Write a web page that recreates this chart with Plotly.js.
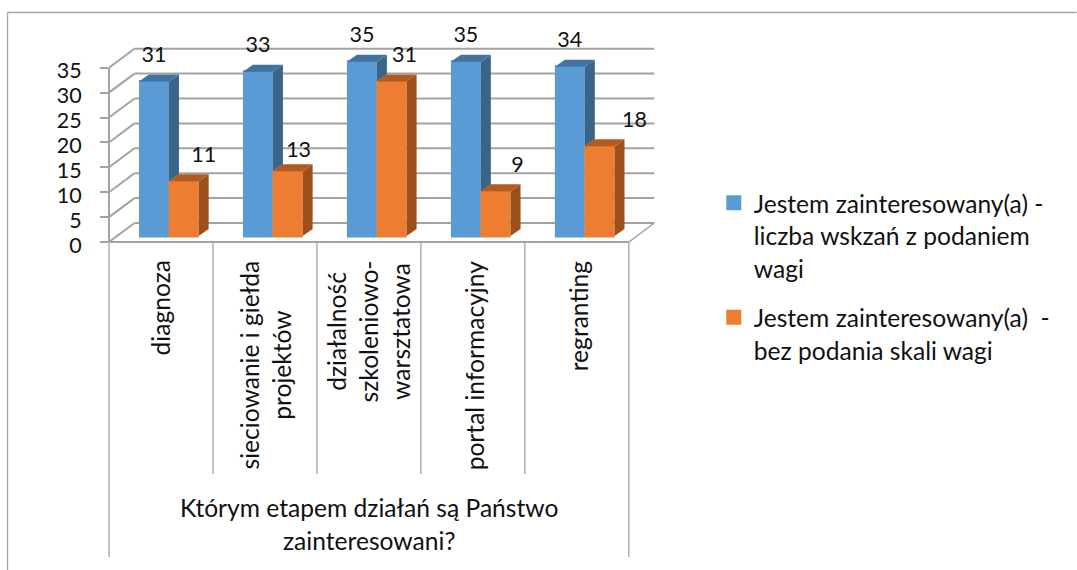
<!DOCTYPE html>
<html>
<head>
<meta charset="utf-8">
<script src="https://cdn.plot.ly/plotly-3.0.1.min.js"></script>
<style>html,body{margin:0;padding:0;background:#fff}#chart{width:1077px;height:570px}</style>
</head>
<body>
<div id="chart"></div>
<script>
// ---- data ----
const categoryLines = [
  ["diagnoza"],
  ["sieciowanie i giełda", "projektów"],
  ["działalność", "szkoleniowo-", "warsztatowa"],
  ["portal informacyjny"],
  ["regranting"]
];
const seriesBlueNameLines = ["Jestem zainteresowany(a) -", "liczba wskzań z podaniem", "wagi"];
const seriesOrangeNameLines = ["Jestem zainteresowany(a)  -", "bez podania skali wagi"];
const seriesBlue = [31, 33, 35, 35, 34];
const seriesOrange = [11, 13, 31, 9, 18];
const valueTicks = [0, 5, 10, 15, 20, 25, 30, 35];
const axisTitleLines = ["Którym etapem działań są Państwo", "zainteresowani?"];

// ---- layout constants (pixels of the page) ----
const W = 1077, H = 570;
const plotL = 109, plotB = 242, catPx = 104, valPx = 4.98;
const xMin = -0.5, xMax = 4.8, plotR = plotL + (xMax - xMin) * catPx;
const toCat = p => p / catPx, toVal = p => p / valPx;
const paperX = p => (p - plotL) / (plotR - plotL);
const paperY = p => (plotB - p) / plotB;
const wallDx = toCat(25.5), wallDy = toVal(19);
const barDx = toCat(10), barDy = toVal(7), barLift = toVal(6);
const barW = toCat(30), barEdge = 3;
const blueLeft = toCat(-22), orangeLeft = toCat(7.7);

const fontFam = 'Lato, Carlito, sans-serif';
const digitPx = 21.5, textPx = 24.6, linePx = 25;
const sized = lines => lines.map(t => `<span style="font-size:${textPx}px">${t}</span>`).join('<br>');

// label nudges from the auto position (pixels)
const blueNudgeX = [0, 0, 0, 0, 0];
const blueNudgeY = [-1, -1, -1, -1, -1];
const orangeNudgeX = [20, 11, 13, 22, 35];
const orangeNudgeY = [-1, -6, -1, -1, -1];
const catLabelNudgeX = [0, 1, -0.5, 1.5, 2];

const cats = seriesBlue.map((_, i) => i);

// polygon builder (one trace holds all polygons, separated by nulls)
function polys(list) {
  const x = [], y = [];
  list.forEach(p => { p.forEach(q => { x.push(q[0]); y.push(q[1]); }); x.push(p[0][0], null); y.push(p[0][1], null); });
  return {x, y};
}
function faceTrace(list, color) {
  const p = polys(list);
  return {type:'scatter', mode:'lines', x:p.x, y:p.y, fill:'toself', fillcolor:color,
          line:{width:0, color:color}, showlegend:false, hoverinfo:'skip'};
}
const blueSide = cats.map(i => {
  const x = i + blueLeft + barW, lo = barLift + seriesOrange[i], hi = barLift + seriesBlue[i];
  return [[x, lo], [x + barDx, lo + barDy], [x + barDx, hi + barDy], [x, hi]];
});
const blueTop = cats.map(i => {
  const x = i + blueLeft, t = barLift + seriesBlue[i];
  return [[x, t], [x + barW, t], [x + barW + barDx, t + barDy], [x + barDx, t + barDy]];
});
const orangeSide = cats.map(i => {
  const x = i + orangeLeft + barW, t = barLift + seriesOrange[i];
  return [[x, barLift], [x + barDx, barLift + barDy], [x + barDx, t + barDy], [x, t]];
});
const orangeTop = cats.map(i => {
  const x = i + orangeLeft, t = barLift + seriesOrange[i];
  return [[x, t], [x + barW, t], [x + barW + barDx, t + barDy], [x + barDx, t + barDy]];
});

function barTrace(vals, left, color, nameLines, group) {
  return {type:'bar', x:cats, y:vals, base:barLift,
    width:barW - toCat(barEdge), offset:left + toCat(barEdge / 2),
    marker:{color:color, line:{color:color, width:barEdge}},
    name:sized(nameLines), legendgroup:group, hoverinfo:'skip'};
}
function labelTrace(vals, left, nudgeX, nudgeY) {
  return {type:'scatter', mode:'text', x:cats.map(i => i + left + barW / 2 + toCat(nudgeX[i])),
    y:vals.map((v, i) => v + barLift + toVal(26) + toVal(nudgeY[i])),
    text:vals.map(String), textposition:'middle center', cliponaxis:false,
    textfont:{family:fontFam, size:digitPx, color:'#111'}, showlegend:false, hoverinfo:'skip'};
}

const traces = [
  barTrace(seriesBlue, blueLeft, '#5b9bd5', seriesBlueNameLines, 'a'),
  barTrace(seriesOrange, orangeLeft, '#ed7d31', seriesOrangeNameLines, 'b'),
  faceTrace(blueSide, '#3a6589'),
  faceTrace(blueTop, '#4272a0'),
  faceTrace(orangeSide, '#9c501c'),
  faceTrace(orangeTop, '#b15b22'),
  labelTrace(seriesBlue, blueLeft, blueNudgeX, blueNudgeY),
  labelTrace(seriesOrange, orangeLeft, orangeNudgeX, orangeNudgeY)
];

// ---- shapes ----
const gray = '#a3a3a3';
const shapes = [];
const seg = (xref, yref, x0, y0, x1, y1, w) => shapes.push({type:'line', layer:'below', xref, yref, x0, y0, x1, y1, line:{color:gray, width:w}});
valueTicks.forEach(v => {
  seg('x', 'y', xMin, v, xMin + wallDx, v + wallDy, 2);
  seg('x', 'y', xMin + wallDx, v + wallDy, 4.5 + wallDx, v + wallDy, 2);
});
seg('x', 'y', 4.5, 0, 4.5 + wallDx, wallDy, 1.5);
seg('paper', 'y', 0, 0, 0, valueTicks[valueTicks.length - 1], 2);
seg('x', 'paper', xMin, 0, 4.5, 0, 2);
// multi-level category separators
for (let i = 1; i < cats.length; i++) seg('x', 'paper', i - 0.5, 0, i - 0.5, paperY(474), 1.3);
seg('paper', 'paper', 0, 0, 0, paperY(557), 1.3);
seg('x', 'paper', 4.5, 0, 4.5, paperY(557), 1.3);
// chart frame
seg('paper', 'paper', paperX(7.5), paperY(12.5), paperX(W), paperY(12.5), 1.3);
seg('paper', 'paper', paperX(7.5), paperY(12.5), paperX(7.5), paperY(H), 1.3);

// ---- annotations ----
const annotations = categoryLines.map((lines, i) => ({
  xref:'x', yref:'paper', x:i + toCat(catLabelNudgeX[i]), y:paperY(258), xanchor:'center', yanchor:'top',
  text:sized(lines), textangle:-90, align:'center', showarrow:false,
  font:{family:fontFam, size:24.5, color:'#111'}
}));
annotations.push({
  xref:'paper', yref:'paper', x:paperX(369), y:paperY(524), xanchor:'center', yanchor:'middle',
  text:sized(axisTitleLines), align:'center', showarrow:false,
  font:{family:fontFam, size:25, color:'#111'}
});

const layout = {
  width:W, height:H, paper_bgcolor:'#fff', plot_bgcolor:'rgba(0,0,0,0)',
  margin:{l:plotL, r:W - plotR, t:0, b:H - plotB, pad:0, autoexpand:false},
  barmode:'overlay', showlegend:true,
  xaxis:{range:[xMin, xMax], showgrid:false, zeroline:false, showline:false, showticklabels:false, ticks:'', fixedrange:true},
  yaxis:{range:[0, plotB / valPx], tickmode:'array', tickvals:valueTicks, ticktext:valueTicks.map(String),
         showgrid:false, zeroline:false, showline:false, ticks:'outside', ticklen:8, tickwidth:1.5, tickcolor:gray,
         ticklabelstandoff:14, ticklabelshift:3, tickfont:{family:fontFam, size:digitPx, color:'#111'}, fixedrange:true},
  legend:{x:paperX(714), y:paperY(180), xanchor:'left', yanchor:'top', traceorder:'grouped', tracegroupgap:14, valign:'top',
          font:{family:fontFam, size:25, color:'#111'}, bgcolor:'rgba(0,0,0,0)', borderwidth:0, itemclick:false, itemdoubleclick:false},
  shapes, annotations
};
Plotly.newPlot('chart', traces, layout, {displayModeBar:false, responsive:false});
</script>
</body>
</html>
